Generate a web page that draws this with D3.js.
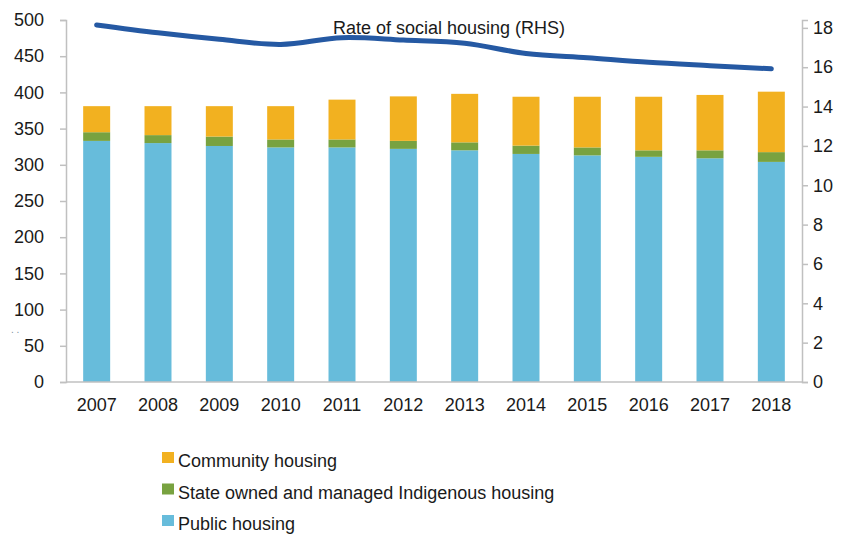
<!DOCTYPE html>
<html>
<head>
<meta charset="utf-8">
<script src="https://cdn.jsdelivr.net/npm/d3@7"></script>
<style>
    body { margin: 0; background: #fff; }
    svg { display: block; font-family: "Liberation Sans", Arial, sans-serif; }
</style>
</head>
<body>
<svg id="chart" width="846" height="537"></svg>
<script>
var years = ["2007", "2008", "2009", "2010", "2011", "2012", "2013", "2014", "2015", "2016", "2017", "2018"];
var publicHousing = [333, 330, 326, 324, 324, 322, 320, 315, 313, 311, 309, 304];
var indigenousHousing = [12, 11, 13, 11, 11, 11, 11, 11.5, 11, 9, 11, 13.5];
var communityHousing = [36, 40, 42, 46, 55, 61.5, 67, 67.5, 70, 74, 76.5, 83.5];
var socialRate = [18.15, 17.75, 17.42, 17.16, 17.5, 17.38, 17.22, 16.7, 16.48, 16.25, 16.08, 15.92];
var leftTicks = [0, 50, 100, 150, 200, 250, 300, 350, 400, 450, 500];
var rightTicks = [0, 2, 4, 6, 8, 10, 12, 14, 16, 18];

var seriesNames = ["Community housing", "State owned and managed Indigenous housing", "Public housing"];
var seriesColors = {
    "Public housing": "#67bcdb",
    "State owned and managed Indigenous housing": "#78a240",
    "Community housing": "#f2b120"
};

var svg = d3.select("#chart");
// note: "top" is a read-only window global, so use plot* names
var plotLeft = 66, plotRight = 802, plotTop = 20, plotBottom = 382;

var x = d3.scaleBand().domain(years).range([plotLeft, plotRight]).paddingInner(0.56).paddingOuter(0.28);
var y = d3.scaleLinear().domain([0, 500]).range([plotBottom, plotTop]);
var y2 = d3.scaleLinear().domain([0, 18.4]).range([plotBottom, plotTop]);

// stacked bars
var rows = years.map(function (yr, i) {
    return {
        year: yr,
        "Public housing": publicHousing[i],
        "State owned and managed Indigenous housing": indigenousHousing[i],
        "Community housing": communityHousing[i]
    };
});
var stack = d3.stack().keys(["Public housing", "State owned and managed Indigenous housing", "Community housing"]);
var layers = stack(rows);

svg.append("g").selectAll("g")
    .data(layers)
    .enter().append("g")
    .attr("fill", function (d) { return seriesColors[d.key]; })
    .selectAll("rect")
    .data(function (d) { return d; })
    .enter().append("rect")
    .attr("x", function (d) { return x(d.data.year); })
    .attr("width", x.bandwidth())
    .attr("y", function (d) { return y(d[1]); })
    .attr("height", function (d) { return y(d[0]) - y(d[1]); });

// axes
var axisColor = "#c0c0c0";
var leftAxis = svg.append("g")
    .attr("transform", "translate(" + plotLeft + ",0)")
    .call(d3.axisLeft(y).tickValues(leftTicks).tickSize(6).tickPadding(16));
var rightAxis = svg.append("g")
    .attr("transform", "translate(" + plotRight + ",0)")
    .call(d3.axisRight(y2).tickValues(rightTicks).tickSize(6).tickPadding(5));
var bottomAxis = svg.append("g")
    .attr("transform", "translate(0," + plotBottom + ")")
    .call(d3.axisBottom(x).tickSize(0).tickPadding(16));

[leftAxis, rightAxis, bottomAxis].forEach(function (a) {
    a.select(".domain").attr("stroke", axisColor).attr("stroke-width", 1.5);
    a.selectAll(".tick line").attr("stroke", axisColor).attr("stroke-width", 1.5);
    a.selectAll("text").attr("font-size", 18).attr("fill", "#1a1a1a")
        .attr("font-family", "Liberation Sans, Arial, sans-serif");
});
bottomAxis.select(".domain").attr("d", "M" + plotLeft + ",0H" + plotRight);

// rate line
var line = d3.line()
    .x(function (d, i) { return x(years[i]) + x.bandwidth() / 2; })
    .y(function (d) { return y2(d); })
    .curve(d3.curveCatmullRom);

svg.append("path")
    .datum(socialRate)
    .attr("fill", "none")
    .attr("stroke", "#2559a3")
    .attr("stroke-width", 5)
    .attr("stroke-linecap", "round")
    .attr("d", line);

svg.append("text")
    .attr("x", 449)
    .attr("y", 34)
    .attr("text-anchor", "middle")
    .attr("font-size", 18)
    .attr("fill", "#1a1a1a")
    .text("Rate of social housing (RHS)");

// stray marks left of the axis
svg.append("text")
    .attr("x", 11)
    .attr("y", 333)
    .attr("font-size", 10)
    .attr("fill", "#8090a0")
    .text(". .");

// legend
var legend = svg.append("g").selectAll("g")
    .data(seriesNames)
    .enter().append("g")
    .attr("transform", function (d, i) { return "translate(162," + (461 + i * 31.5) + ")"; });

legend.append("rect")
    .attr("x", 0)
    .attr("y", -9)
    .attr("width", 12)
    .attr("height", 11)
    .attr("fill", function (d) { return seriesColors[d]; });

legend.append("text")
    .attr("x", 16)
    .attr("y", 6)
    .attr("font-size", 18)
    .attr("fill", "#1a1a1a")
    .text(function (d) { return d; });
</script>
</body>
</html>
